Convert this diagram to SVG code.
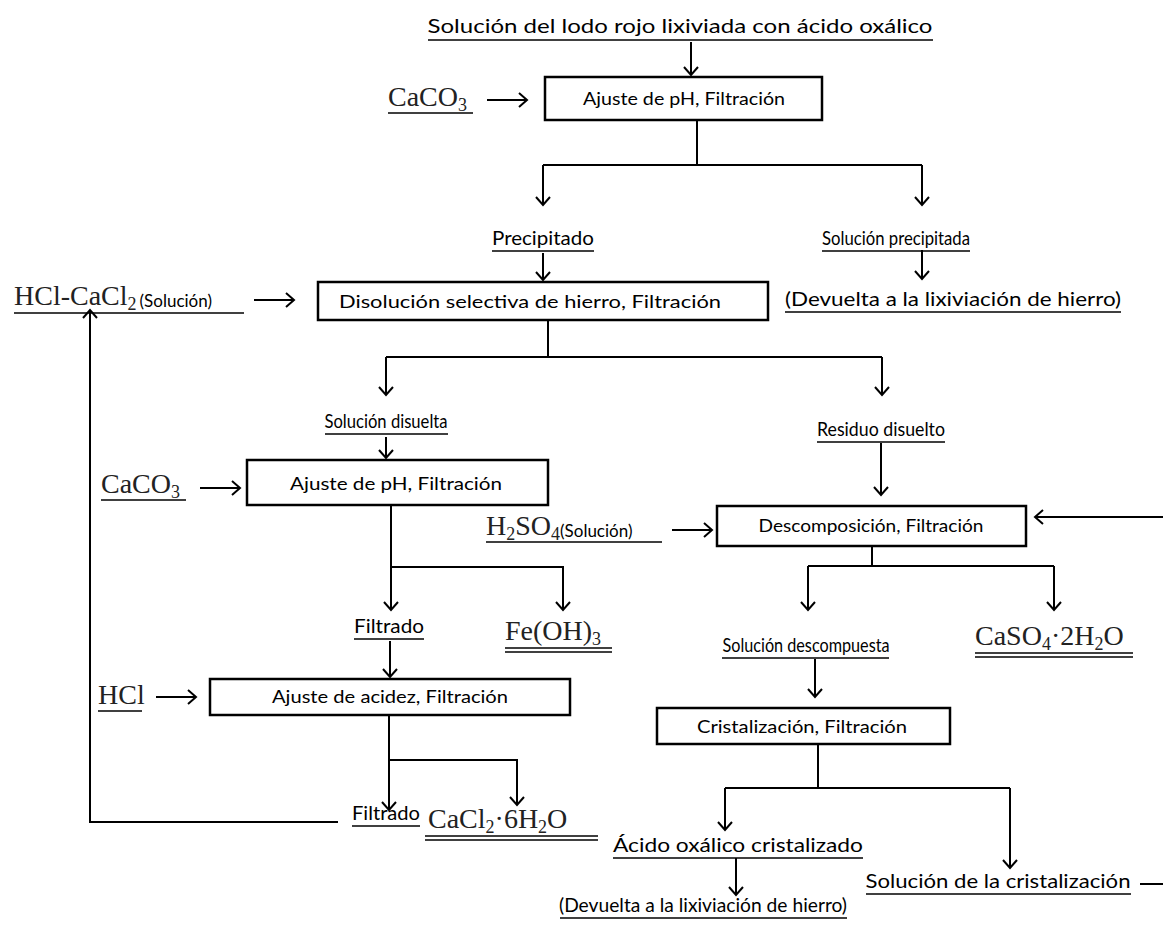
<svg xmlns="http://www.w3.org/2000/svg" width="1163" height="928" viewBox="0 0 1163 928">
<style>
.box{fill:#fff;stroke:#000;stroke-width:2.5}
.c{fill:none;stroke:#000;stroke-width:2}
.lbl{font-family:Lato,"Open Sans","Liberation Sans",sans-serif;font-size:19px;fill:#000;text-anchor:middle}
.bt{font-family:Lato,"Open Sans","Liberation Sans",sans-serif;font-size:18px;fill:#000;text-anchor:middle}
.chem{font-family:"Liberation Serif",serif;font-size:28px;fill:#222}
.sub{font-size:18px}
.small{font-family:Lato,"Open Sans","Liberation Sans",sans-serif;font-size:17px;fill:#000}
.ul{stroke:#000;stroke-width:1.5}
</style>
<defs>
<marker id="ah" markerUnits="userSpaceOnUse" markerWidth="14" markerHeight="16" refX="11" refY="8" orient="auto" overflow="visible">
<path d="M3,1 L11,8 L3,15" fill="none" stroke="#000" stroke-width="2"/>
</marker>
</defs>
<rect width="1163" height="928" fill="#fff"/>

<!-- connectors -->
<g id="connectors" class="c" marker-end="url(#ah)">
<path d="M691,42 V75"/>
<path d="M487,100 H527"/>
<path d="M697,120 V165 M543,165 H922" marker-end="none"/>
<path d="M543,165 V205"/>
<path d="M922,165 V205"/>
<path d="M543,253 V280"/>
<path d="M922,250 V279"/>
<path d="M254,300 H294"/>
<path d="M548,320 V357 M386,357 H882" marker-end="none"/>
<path d="M386,357 V395"/>
<path d="M882,357 V395"/>
<path d="M386,437 V458"/>
<path d="M881,443 V495"/>
<path d="M200,488 H240"/>
<path d="M391,505 V610"/>
<path d="M391,567 H563 V610"/>
<path d="M390,641 V677"/>
<path d="M156,697 H196"/>
<path d="M389,715 V810"/>
<path d="M389,760 H517 V805"/>
<path d="M338,822 H90 V310"/>
<path d="M672,530 H712"/>
<path d="M1163,517 H1035"/>
<path d="M872,546 V566 M808,566 H1054" marker-end="none"/>
<path d="M808,566 V610"/>
<path d="M1054,566 V610"/>
<path d="M815,659 V697"/>
<path d="M818,744 V788 M725,788 H1010" marker-end="none"/>
<path d="M725,788 V830"/>
<path d="M1010,788 V868"/>
<path d="M736,858 V895"/>
<path d="M1140,884 H1163" marker-end="none"/>
</g>

<!-- process boxes -->
<g id="box-ph1">
<rect class="box" x="545" y="77" width="277" height="43"/>
<text class="bt" x="684" y="105" textLength="202" lengthAdjust="spacingAndGlyphs">Ajuste de pH, Filtración</text>
</g>
<g id="box-disolucion">
<rect class="box" x="318" y="282" width="450" height="38"/>
<text class="bt" x="530" y="308" textLength="382" lengthAdjust="spacingAndGlyphs">Disolución selectiva de hierro, Filtración</text>
</g>
<g id="box-ph2">
<rect class="box" x="247" y="460" width="301" height="45"/>
<text class="bt" x="396" y="490" textLength="212" lengthAdjust="spacingAndGlyphs">Ajuste de pH, Filtración</text>
</g>
<g id="box-descomp">
<rect class="box" x="717" y="506" width="309" height="40"/>
<text class="bt" x="871" y="532" textLength="225" lengthAdjust="spacingAndGlyphs">Descomposición, Filtración</text>
</g>
<g id="box-acidez">
<rect class="box" x="210" y="679" width="360" height="36"/>
<text class="bt" x="390" y="703" textLength="236" lengthAdjust="spacingAndGlyphs">Ajuste de acidez, Filtración</text>
</g>
<g id="box-cristal">
<rect class="box" x="657" y="708" width="293" height="36"/>
<text class="bt" x="802" y="733" textLength="210" lengthAdjust="spacingAndGlyphs">Cristalización, Filtración</text>
</g>

<!-- stream labels -->
<g id="lbl-title">
<text class="lbl" x="680" y="33" font-size="21" textLength="505" lengthAdjust="spacingAndGlyphs">Solución del lodo rojo lixiviada con ácido oxálico</text>
<line class="ul" x1="428" y1="40" x2="933" y2="40"/>
</g>
<g id="lbl-caco3-a">
<text class="chem" x="388" y="106">CaCO<tspan class="sub" dy="5">3</tspan></text>
<line class="ul" x1="388" y1="113" x2="473" y2="113"/>
</g>
<g id="lbl-precipitado">
<text class="lbl" x="543" y="245" textLength="102" lengthAdjust="spacingAndGlyphs">Precipitado</text>
<line class="ul" x1="492" y1="251" x2="594" y2="251"/>
</g>
<g id="lbl-sol-precipitada">
<text class="lbl" x="896" y="245" textLength="148" lengthAdjust="spacingAndGlyphs">Solución precipitada</text>
<line class="ul" x1="822" y1="251" x2="970" y2="251"/>
</g>
<g id="lbl-devuelta-a">
<text class="lbl" x="953" y="306" textLength="336" lengthAdjust="spacingAndGlyphs">(Devuelta a la lixiviación de hierro)</text>
<line class="ul" x1="785" y1="312" x2="1121" y2="312"/>
</g>
<g id="lbl-hcl-cacl2">
<text class="chem" x="14" y="305">HCl-CaCl<tspan class="sub" dy="5">2</tspan><tspan class="small" dy="-3" dx="3">(Solución)</tspan></text>
<line class="ul" x1="14" y1="313" x2="244" y2="313"/>
</g>
<g id="lbl-sol-disuelta">
<text class="lbl" x="386" y="428" textLength="123" lengthAdjust="spacingAndGlyphs">Solución disuelta</text>
<line class="ul" x1="325" y1="434" x2="448" y2="434"/>
</g>
<g id="lbl-residuo">
<text class="lbl" x="881" y="436" textLength="128" lengthAdjust="spacingAndGlyphs">Residuo disuelto</text>
<line class="ul" x1="817" y1="442" x2="945" y2="442"/>
</g>
<g id="lbl-caco3-b">
<text class="chem" x="101" y="493">CaCO<tspan class="sub" dy="5">3</tspan></text>
<line class="ul" x1="101" y1="500" x2="186" y2="500"/>
</g>
<g id="lbl-h2so4">
<text class="chem" x="486" y="535">H<tspan class="sub" dy="5">2</tspan><tspan dy="-5">SO</tspan><tspan class="sub" dy="5">4</tspan><tspan class="small" dy="-3">(Solución)</tspan></text>
<line class="ul" x1="486" y1="542" x2="662" y2="542"/>
</g>
<g id="lbl-filtrado-a">
<text class="lbl" x="389" y="633" textLength="70" lengthAdjust="spacingAndGlyphs">Filtrado</text>
<line class="ul" x1="354" y1="639" x2="424" y2="639"/>
</g>
<g id="lbl-feoh3">
<text class="chem" x="505" y="640">Fe(OH)<tspan class="sub" dy="5">3</tspan></text>
<line class="ul" x1="505" y1="648" x2="612" y2="648"/>
<line class="ul" x1="505" y1="652" x2="612" y2="652"/>
</g>
<g id="lbl-sol-descompuesta">
<text class="lbl" x="806" y="652" textLength="167" lengthAdjust="spacingAndGlyphs">Solución descompuesta</text>
<line class="ul" x1="722" y1="658" x2="889" y2="658"/>
</g>
<g id="lbl-caso4">
<text class="chem" x="975" y="645">CaSO<tspan class="sub" dy="5">4</tspan><tspan dy="-5">·2H</tspan><tspan class="sub" dy="5">2</tspan><tspan dy="-5">O</tspan></text>
<line class="ul" x1="975" y1="653" x2="1133" y2="653"/>
<line class="ul" x1="975" y1="657" x2="1133" y2="657"/>
</g>
<g id="lbl-hcl">
<text class="chem" x="98" y="704">HCl</text>
<line class="ul" x1="98" y1="711" x2="142" y2="711"/>
</g>
<g id="lbl-filtrado-b">
<text class="lbl" x="386" y="820" textLength="68" lengthAdjust="spacingAndGlyphs">Filtrado</text>
<line class="ul" x1="352" y1="826" x2="420" y2="826"/>
</g>
<g id="lbl-cacl2">
<text class="chem" x="428" y="828">CaCl<tspan class="sub" dy="5">2</tspan><tspan dy="-5">·6H</tspan><tspan class="sub" dy="5">2</tspan><tspan dy="-5">O</tspan></text>
<line class="ul" x1="425" y1="836" x2="598" y2="836"/>
<line class="ul" x1="425" y1="840" x2="598" y2="840"/>
</g>
<g id="lbl-acido-oxalico">
<text class="lbl" x="738" y="852" textLength="250" lengthAdjust="spacingAndGlyphs">Ácido oxálico cristalizado</text>
<line class="ul" x1="613" y1="858" x2="863" y2="858"/>
</g>
<g id="lbl-devuelta-b">
<text class="lbl" x="703" y="912" textLength="288" lengthAdjust="spacingAndGlyphs">(Devuelta a la lixiviación de hierro)</text>
<line class="ul" x1="560" y1="918" x2="847" y2="918"/>
</g>
<g id="lbl-sol-cristal">
<text class="lbl" x="998" y="888" textLength="265" lengthAdjust="spacingAndGlyphs">Solución de la cristalización</text>
<line class="ul" x1="866" y1="894" x2="1131" y2="894"/>
</g>
</svg>
